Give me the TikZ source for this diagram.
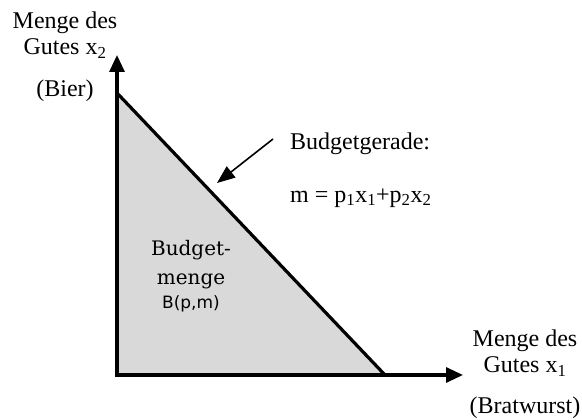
\documentclass[tikz,border=0pt]{standalone}
\usepackage{fontspec}
\setmainfont{Liberation Serif}
\newfontfamily\budgetfont{DejaVu Serif}
\newfontfamily\setfont{DejaVu Sans}
\usetikzlibrary{arrows.meta}

\begin{document}
\begin{tikzpicture}[x=1pt, y=-1pt,
    axis/.style={line width=3.2pt, line join=miter, {Triangle[length=17pt,width=15pt]}-{Triangle[length=17pt,width=15pt]}},
    budgetline/.style={line width=3.2pt},
    pointer/.style={line width=1.6pt, -{Triangle[length=18pt,width=14pt]}},
    axislabel/.style={font=\fontsize{24}{26}\selectfont, align=center, inner sep=0pt},
    setlabel/.style={font=\budgetfont\fontsize{20}{29}\selectfont, align=center, inner sep=0pt},
    setname/.style={font=\setfont\fontsize{17}{18}\selectfont, inner sep=0pt}
]
\useasboundingbox (0,0) rectangle (582,420);

% Axes and budget set
\coordinate (O) at (117,375);
\coordinate (ytip) at (117,55);
\coordinate (xtip) at (463,375);
\coordinate (A) at (117,93);
\coordinate (B) at (385,375);

\fill[black!15] (A) -- (O) -- (B) -- cycle;
\draw[budgetline] (A) -- (B);
\draw[axis] (ytip) -- (O) -- (xtip);

% Axis labels
\node[axislabel] (ylab) at (65,35) {Menge des\\Gutes x\textsubscript{2}};
\node[axislabel] (bier) at (65,91) {(Bier)};
\node[axislabel] (xlab) at (525,353) {Menge des\\Gutes x\textsubscript{1}};
\node[axislabel] (wurst) at (525,408) {(Bratwurst)};

% Budget line annotation
\node[axislabel, anchor=west] (gerade) at (290,144) {Budgetgerade:};
\node[axislabel, anchor=west] (formel) at (290,198) {m = p\textsubscript{1}x\textsubscript{1}+p\textsubscript{2}x\textsubscript{2}};
\coordinate (ptrstart) at (273,139);
\coordinate (ptrend) at (217,183);
\draw[pointer] (ptrstart) -- (ptrend);

% Budget set
\node[setlabel] (menge) at (191,265) {Budget-\\menge};
\node[setname] (bpm) at (191,304) {B(p,m)};

\end{tikzpicture}
\end{document}
